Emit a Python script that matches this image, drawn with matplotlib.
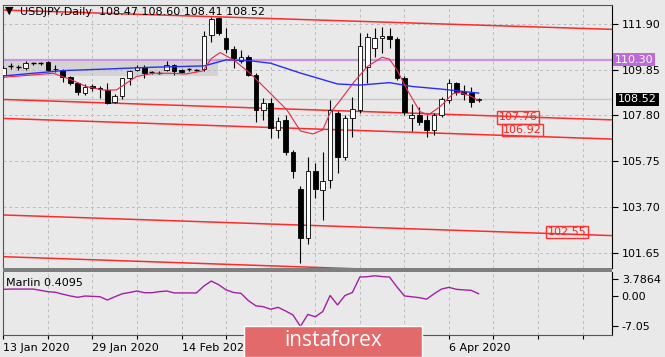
import matplotlib
matplotlib.use("Agg")
import matplotlib.pyplot as plt
import matplotlib.transforms as mtransforms
from matplotlib.patches import Rectangle

# USDJPY daily, bar index 0 = 13 Jan 2020
opens = [109.61, 110.02, 109.96, 109.91, 110.14, 110.14, 110.21, 109.90, 109.84, 109.51,
         109.24, 108.79, 109.12, 109.02, 108.94, 108.42, 108.67, 109.46, 109.84, 109.99,
         109.73, 109.72, 109.84, 110.06, 109.84, 109.87, 109.84, 109.87, 111.41, 112.15,
         111.26, 110.77, 110.26, 110.41, 109.61, 108.04, 108.34, 107.15, 107.60, 106.17,
         104.49, 102.29, 105.32, 104.46, 104.90, 107.90, 105.95, 107.67, 108.04, 109.99,
         110.81, 111.26, 111.36, 111.21, 109.46, 107.67, 107.82, 107.60, 107.15, 107.82,
         108.49, 109.24, 108.86, 108.82, 108.47]
highs = [110.00, 110.16, 110.05, 110.22, 110.20, 110.20, 110.26, 110.06, 109.86, 109.55,
         109.28, 109.20, 109.20, 109.10, 109.24, 108.75, 109.50, 109.85, 110.05, 110.05,
         109.80, 109.78, 110.24, 110.10, 109.88, 109.92, 109.90, 111.60, 112.21, 112.22,
         111.72, 110.90, 110.73, 110.50, 109.70, 108.57, 108.60, 107.74, 107.82, 106.25,
         104.64, 105.95, 105.65, 106.17, 108.49, 108.00, 107.80, 108.64, 111.48, 111.51,
         111.70, 111.78, 111.71, 111.30, 109.55, 108.30, 108.19, 107.82, 107.90, 108.64,
         109.42, 109.31, 109.16, 109.09, 108.60]
lows = [109.50, 109.87, 109.85, 109.85, 110.08, 110.08, 109.80, 109.76, 109.31, 109.15,
        108.72, 108.70, 108.90, 108.57, 108.30, 108.35, 108.55, 109.15, 109.80, 109.46,
        109.65, 109.66, 109.80, 109.61, 109.70, 109.80, 109.78, 109.80, 111.11, 111.40,
        110.60, 109.93, 110.14, 109.55, 107.52, 107.60, 106.79, 106.77, 106.03, 104.99,
        101.17, 102.03, 104.08, 103.11, 104.55, 105.22, 105.80, 106.85, 107.90, 109.24,
        110.43, 110.59, 110.81, 109.40, 107.82, 107.09, 107.37, 106.85, 106.90, 107.75,
        108.34, 108.72, 108.49, 108.16, 108.41]
closes = [109.93, 110.02, 109.96, 110.16, 110.14, 110.14, 109.84, 109.87, 109.51, 109.24,
          108.86, 109.09, 109.03, 108.98, 108.34, 108.67, 109.46, 109.81, 109.99, 109.72,
          109.73, 109.72, 110.06, 109.81, 109.76, 109.87, 109.84, 111.36, 112.11, 111.48,
          110.77, 110.36, 110.44, 109.61, 108.04, 108.34, 107.22, 107.56, 106.17, 105.32,
          102.29, 105.32, 104.49, 104.88, 108.04, 105.95, 107.69, 108.07, 110.91, 111.30,
          111.26, 111.36, 111.21, 109.46, 107.97, 107.82, 107.52, 107.15, 107.82, 108.52,
          109.24, 108.86, 108.76, 108.42, 108.52]

# slow moving average (blue), read at some bars
slow_x = [0, 8, 13, 20, 27, 30, 33, 36, 40, 45, 48, 52, 55, 59, 64]
slow_y = [109.57, 109.81, 109.87, 109.96, 110.02, 110.29, 110.26, 110.14, 109.70, 109.21,
          109.16, 109.27, 109.10, 108.98, 108.80]

# fast moving average (thin red)
fast_x = [0, 6.7, 9, 11.2, 13.5, 15.2, 17.9, 20.2, 22.5, 24.6, 26.9, 28, 29.2, 31, 33.2,
          35.5, 38.2, 40, 41.7, 43, 44, 45.4, 47.1, 49, 51, 52, 53, 54.4, 56.1, 57.2,
          58.8, 60.6, 61.5, 62.9, 63.9]
fast_y = [109.51, 109.69, 109.42, 109.09, 108.94, 108.94, 109.54, 109.69, 109.69, 109.66,
          109.80, 110.35, 110.62, 110.29, 109.70, 108.94, 108.04, 107.10, 106.97, 107.15,
          107.91, 108.49, 109.25, 109.99, 110.41, 110.32, 109.84, 108.94, 107.97, 107.82,
          108.19, 108.79, 108.82, 108.67, 108.49]

# Marlin oscillator
marlin = [1.44, 1.5, 1.5, 1.5, 1.5, 1.2, 0.89, 0.75, 0.3, -0.1,
          -0.42, -0.12, -0.2, -0.28, -1.05, -0.3, 0.4, 0.7, 1.05, 0.65,
          0.65, 0.9, 1.05, 0.6, 0.6, 0.6, 0.6, 2.2, 3.37, 2.5,
          1.3, 0.7, 0.5, -1.2, -2.4, -2.6, -3.2, -2.75, -3.6, -4.53,
          -7.2, -4.4, -4.95, -3.75, 0.0, -2.2, 0.0, 0.7, 4.3, 4.37,
          4.6, 4.4, 4.3, 2.0, -0.1, -0.3, -0.5, -0.85, 0.4, 1.5,
          1.9, 1.44, 1.3, 1.2, 0.41]

# channel lines: (x start, price start, x end, price end)
chan_x0 = [-0.4, -0.4, -0.4, -0.4, -0.4]
chan_y0 = [112.53, 108.52, 107.67, 103.34, 101.47]
chan_x1 = [82, 82, 82, 82, 82]
chan_y1 = [111.66, 107.60, 106.74, 102.41, 100.53]

level_labels = ["107.76", "106.92", "102.55"]
level_x = [69.3, 69.9, 75.9]
level_y = [107.72, 107.15, 102.57]

resistance = 110.30
last_price = 108.52
price_ticks = [111.90, 109.85, 107.80, 105.75, 103.70, 101.65]
# labels under the logo (bars 36 and 48) are hidden in the source
date_labels = ["13 Jan 2020", "29 Jan 2020", "14 Feb 2020", "", "", "6 Apr 2020"]

bg = "#E9E9E9"
W, H = 665, 357
fig = plt.figure(figsize=(W / 100, H / 100), dpi=100, facecolor=bg)
ax = fig.add_axes([3 / W, 1 - 268 / H, 609 / W, 263 / H], facecolor=bg)
ax2 = fig.add_axes([3 / W, 1 - 335 / H, 609 / W, 63 / H], facecolor=bg)

xmax = 81.96
ax.set_xlim(-0.05, xmax)
ax.set_ylim(100.958, 112.752)

# grey zone and resistance
ax.add_patch(Rectangle((-0.5, 109.57), 29.4, resistance - 109.57, facecolor="#D3D3D3",
                       edgecolor="none", zorder=1))
ax.axhline(resistance, color="#C896DC", lw=1.6, zorder=2)
ax.axhline(last_price, color="#C6C6C6", lw=1, zorder=1.5)

for x0, y0, x1, y1 in zip(chan_x0, chan_y0, chan_x1, chan_y1):
    ax.plot([x0, x1], [y0, y1], color="#FF2A2A", lw=1.1, zorder=2)

# candles
for i, (o, h, l, c) in enumerate(zip(opens, highs, lows, closes)):
    ax.vlines(i, l, h, color="black", lw=0.8, zorder=3)
    if abs(c - o) < 0.005:
        ax.hlines(o, i - 0.33, i + 0.33, color="black", lw=1, zorder=3.1)
    else:
        fc = "white" if c > o else "black"
        ax.bar(i, abs(c - o), bottom=min(o, c), width=0.62, facecolor=fc,
               edgecolor="black", lw=0.6, zorder=3.1)

ax.plot(slow_x, slow_y, color="#2B2BFF", lw=1, zorder=4)
ax.plot(fast_x, fast_y, color="#E8264E", lw=0.8, zorder=4)

for txt, x, y in zip(level_labels, level_x, level_y):
    ax.text(x, y, txt, color="#FF2020", fontsize=8, ha="center", va="center", zorder=5,
            bbox=dict(facecolor="none", edgecolor="#FF3030", lw=1, pad=1))

ax.set_xticks(range(0, 83, 6))
ax.set_xticklabels([])
ax.tick_params(axis="x", length=0)
ax.yaxis.tick_right()
ax.set_yticks(price_ticks)
ax.set_yticklabels(["%.2f" % t for t in price_ticks])
ax.tick_params(axis="y", length=4, width=0.8, labelsize=8, pad=3, colors="black")
ax.grid(True, ls=(0, (3, 3)), color="#BDBDBD", lw=0.7, zorder=0.5)
for s in ["left", "top"]:
    ax.spines[s].set_color("#555555")
ax.spines["right"].set_color("black")
ax.spines["bottom"].set_visible(False)

# right side price boxes
tr = mtransforms.blended_transform_factory(ax.transAxes, ax.transData)
ax.text(1.0 + 3 / 609, resistance, "110.30", transform=tr, color="white", fontsize=8,
        va="center", ha="left", zorder=6, clip_on=False,
        bbox=dict(facecolor="#BD6BDB", edgecolor="none", pad=1.2))
ax.text(1.0 + 6 / 609, last_price, "108.52", transform=tr, color="white", fontsize=8,
        va="center", ha="left", zorder=6, clip_on=False,
        bbox=dict(facecolor="black", edgecolor="none", pad=1.2))

# separator between panels
fig.patches.append(Rectangle((3 / W, 1 - 272 / H), 609 / W, 4 / H, facecolor="#7F7F7F",
                             edgecolor="none", transform=fig.transFigure, figure=fig))

# Marlin panel
ax2.set_xlim(-0.05, xmax)
ax2.set_ylim(-9.19, 5.47)
ax2.plot(range(len(marlin)), marlin, color="#A41FA4", lw=1)
ax2.yaxis.tick_right()
ax2.set_yticks([3.7864, 0.0, -7.05])
ax2.set_yticklabels(["3.7864", "0.00", "-7.05"])
ax2.tick_params(axis="y", length=4, width=0.8, labelsize=8, pad=3)
ax2.set_xticks(range(0, 83, 6))
ax2.set_xticklabels([date_labels[k // 2] if k % 2 == 0 and k // 2 < len(date_labels) else ""
                     for k in range(len(range(0, 83, 6)))], ha="left")
ax2.tick_params(axis="x", length=3, width=0.8, labelsize=8, pad=3)
ax2.grid(True, axis="x", ls=(0, (3, 3)), color="#BDBDBD", lw=0.7)
for s in ["left", "bottom"]:
    ax2.spines[s].set_color("#555555")
ax2.spines["right"].set_color("black")
ax2.spines["top"].set_visible(False)
ax2.text(3 / 609, 0.825, "Marlin 0.4095", transform=ax2.transAxes, fontsize=8, va="center")

# header
fig.text(5 / W, 1 - 11 / H, "\u25BC", fontsize=8, va="center")
fig.text(20 / W, 1 - 12 / H, "USDJPY,Daily  108.47 108.60 108.41 108.52", fontsize=8, va="center")

# logo
fig.patches.append(Rectangle((244 / W, 0), 178 / W, 31 / H, facecolor="#E36A6A",
                             edgecolor="white", lw=1, transform=fig.transFigure, figure=fig,
                             zorder=10))
fig.text(333 / W, 1 - 341 / H, "instaforex", color="white", fontsize=15, ha="center",
         va="center", family="Open Sans", zorder=11)

fig.savefig("out.png", dpi=100, facecolor=bg)
